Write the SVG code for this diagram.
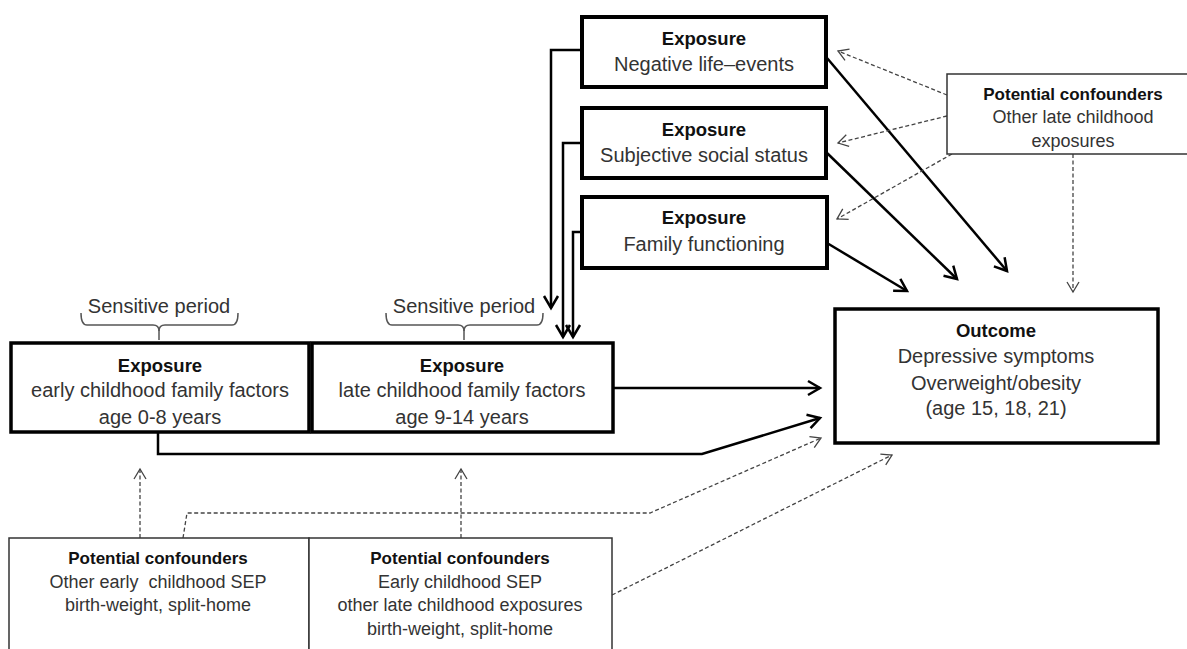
<svg xmlns="http://www.w3.org/2000/svg" width="1187" height="649" viewBox="0 0 1187 649">
<style>
text{font-family:"Liberation Sans",Arial,sans-serif;text-anchor:middle;fill:#333}
.b{font-weight:bold;fill:#111}
.m{font-size:20px}
.mb{font-size:18.5px}
.c{font-size:18px}
.cb{font-size:17px}
.ex{fill:#fff;stroke:#000;stroke-width:4}
.oc{fill:#fff;stroke:#000;stroke-width:3.5}
.cf{fill:#fff;stroke:#333;stroke-width:1.5}
.s{fill:none;stroke:#000;stroke-width:2.5}
.d{fill:none;stroke:#444;stroke-width:1.3;stroke-dasharray:4 2.5}
.br{fill:none;stroke:#555;stroke-width:1.5}
</style>
<defs>
<marker id="as" markerUnits="userSpaceOnUse" markerWidth="18" markerHeight="18" refX="13" refY="8" orient="auto" overflow="visible">
<path d="M1,1 L13,8 L1,15" fill="none" stroke="#000" stroke-width="2.5" stroke-linejoin="miter"/>
</marker>
<marker id="ad" markerUnits="userSpaceOnUse" markerWidth="14" markerHeight="14" refX="11" refY="6.5" orient="auto" overflow="visible">
<path d="M1,0.5 L11,6.5 L1,12.5" fill="none" stroke="#444" stroke-width="1.3"/>
</marker>
</defs>
<rect width="1187" height="649" fill="#fff"/>

<g id="connectors">
<path class="s" d="M582,50 H551 V308" marker-end="url(#as)"/>
<path class="s" d="M582,143 H563 V337" marker-end="url(#as)"/>
<path class="s" d="M582,232 H573 V337" marker-end="url(#as)"/>
<path class="s" d="M827,58 L1007,271" marker-end="url(#as)"/>
<path class="s" d="M827,153 L957,279" marker-end="url(#as)"/>
<path class="s" d="M827,243 L907,291" marker-end="url(#as)"/>
<path class="s" d="M613,388 H820" marker-end="url(#as)"/>
<path class="s" d="M158,432 V454 H702 L820,418" marker-end="url(#as)"/>
<path class="d" d="M947,95 L838,51" marker-end="url(#ad)"/>
<path class="d" d="M947,116 L838,143" marker-end="url(#ad)"/>
<path class="d" d="M952,154 L837,219" marker-end="url(#ad)"/>
<path class="d" d="M1073,154 V292" marker-end="url(#ad)"/>
<path class="d" d="M140,538 V469" marker-end="url(#ad)"/>
<path class="d" d="M461,538 V469" marker-end="url(#ad)"/>
<path class="d" d="M183,538 L187,513 H650 L821,438" marker-end="url(#ad)"/>
<path class="d" d="M612,595 L892,455" marker-end="url(#ad)"/>
</g>

<g id="sensitive-early">
<path class="br" d="M81,313 Q81,325 87,325 L153,325 Q159,325 159,331 Q159,325 165,325 L232,325 Q238,325 238,313"/>
<path class="br" d="M159,330 V340"/>
<text class="m" x="159" y="313">Sensitive period</text>
</g>
<g id="sensitive-late">
<path class="br" d="M386,313 Q386,325 392,325 L458,325 Q464,325 464,331 Q464,325 470,325 L537,325 Q543,325 543,313"/>
<path class="br" d="M464,330 V340"/>
<text class="m" x="464" y="313">Sensitive period</text>
</g>

<g id="exp-early">
<rect class="ex" x="11" y="343" width="298" height="89" style="stroke-width:3.5"/>
<text class="b mb" x="160" y="372">Exposure</text>
<text class="m" x="160" y="397">early childhood family factors</text>
<text class="m" x="160" y="424">age 0-8 years</text>
</g>
<g id="exp-late">
<rect class="ex" x="312" y="343" width="301" height="89" style="stroke-width:3.5"/>
<text class="b mb" x="462" y="372">Exposure</text>
<text class="m" x="462" y="397">late childhood family factors</text>
<text class="m" x="462" y="424">age 9-14 years</text>
</g>
<g id="exp-nle">
<rect class="ex" x="582" y="17" width="244" height="70"/>
<text class="b mb" x="704" y="45">Exposure</text>
<text class="m" x="704" y="71">Negative life–events</text>
</g>
<g id="exp-sss">
<rect class="ex" x="582" y="108" width="244" height="70"/>
<text class="b mb" x="704" y="136">Exposure</text>
<text class="m" x="704" y="162">Subjective social status</text>
</g>
<g id="exp-ff">
<rect class="ex" x="582" y="197" width="245" height="71"/>
<text class="b mb" x="704" y="224">Exposure</text>
<text class="m" x="704" y="251">Family functioning</text>
</g>
<g id="outcome">
<rect class="oc" x="835" y="309" width="323" height="134"/>
<text class="b mb" x="996" y="337">Outcome</text>
<text class="m" x="996" y="363">Depressive symptoms</text>
<text class="m" x="996" y="390">Overweight/obesity</text>
<text class="m" x="996" y="415">(age 15, 18, 21)</text>
</g>
<g id="conf-late">
<rect class="cf" x="947" y="74" width="260" height="80"/>
<text class="b cb" x="1073" y="100">Potential confounders</text>
<text class="c" x="1073" y="123">Other late childhood</text>
<text class="c" x="1073" y="147">exposures</text>
</g>
<g id="conf-early">
<rect class="cf" x="9" y="538" width="300" height="125"/>
<text class="b cb" x="158" y="564">Potential confounders</text>
<text class="c" x="158" y="588" xml:space="preserve">Other early  childhood SEP</text>
<text class="c" x="158" y="611">birth-weight, split-home</text>
</g>
<g id="conf-late-bottom">
<rect class="cf" x="309" y="538" width="303" height="125"/>
<text class="b cb" x="460" y="564">Potential confounders</text>
<text class="c" x="460" y="588">Early childhood SEP</text>
<text class="c" x="460" y="611">other late childhood exposures</text>
<text class="c" x="460" y="635">birth-weight, split-home</text>
</g>
</svg>
